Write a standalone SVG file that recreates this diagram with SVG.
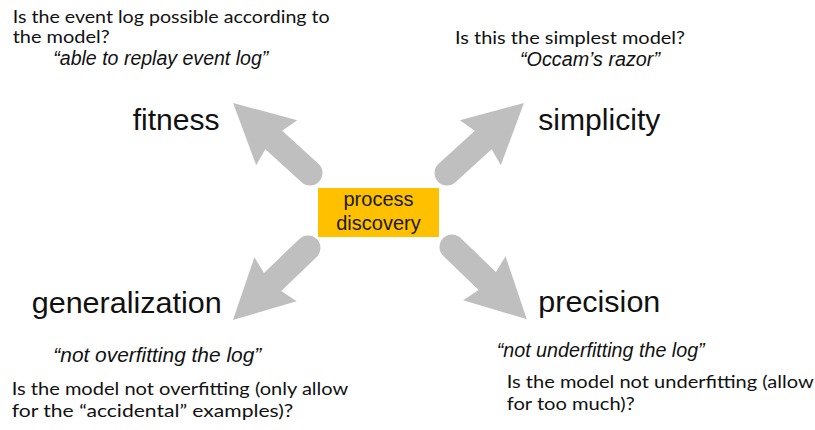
<svg xmlns="http://www.w3.org/2000/svg" width="815" height="430" viewBox="0 0 815 430">
  <style>
    .q { font-family: Lato, "Open Sans", "Liberation Sans", sans-serif; font-size: 18px; fill: #111; }
    .it { font-family: "Liberation Sans", Arial, sans-serif; font-size: 19.5px; font-style: italic; fill: #111; }
    .lbl { font-family: "Liberation Sans", Arial, sans-serif; font-size: 30px; fill: #111; }
    .box { fill: #FFC000; }
    .boxt { font-family: "Liberation Sans", Arial, sans-serif; font-size: 20px; fill: #1a1a1a; text-anchor: middle; }
    .arrow { fill: #BFBFBF; }
  </style>
  <defs>
    <path id="fat-arrow" d="M0,-12.5 L49,-12.5 L45,-30.5 L104,0 L45,30.5 L49,12.5 L0,12.5 A12.5,12.5 0 0 1 0,-12.5 Z"/>
  </defs>
  <rect width="815" height="430" fill="#ffffff"/>

  <g id="connectors">
    <use href="#fat-arrow" class="arrow" transform="translate(310,173) rotate(222.3)"/>
    <use href="#fat-arrow" class="arrow" transform="translate(447,173) rotate(317.7)"/>
    <use href="#fat-arrow" class="arrow" transform="translate(308,248) rotate(136.2)"/>
    <use href="#fat-arrow" class="arrow" transform="translate(452,247) rotate(44)"/>
  </g>

  <g id="process-discovery">
    <rect class="box" x="318" y="188" width="121" height="49"/>
    <text class="boxt" x="378.5" y="206">process</text>
    <text class="boxt" x="378.5" y="230">discovery</text>
  </g>

  <g id="fitness">
    <text class="q" x="12.7" y="22.5" textLength="317" lengthAdjust="spacingAndGlyphs">Is the event log possible according to</text>
    <text class="q" x="12.7" y="43" textLength="97" lengthAdjust="spacingAndGlyphs">the model?</text>
    <text class="it" x="53.3" y="65" textLength="215" lengthAdjust="spacingAndGlyphs">“able to replay event log”</text>
    <text class="lbl" x="132.7" y="130" textLength="87" lengthAdjust="spacingAndGlyphs">fitness</text>
  </g>

  <g id="simplicity">
    <text class="q" x="455" y="44" textLength="230" lengthAdjust="spacingAndGlyphs">Is this the simplest model?</text>
    <text class="it" x="520" y="65.5" textLength="140" lengthAdjust="spacingAndGlyphs">“Occam’s razor”</text>
    <text class="lbl" x="538.3" y="130" textLength="122" lengthAdjust="spacingAndGlyphs">simplicity</text>
  </g>

  <g id="generalization">
    <text class="lbl" x="31.7" y="313" textLength="190" lengthAdjust="spacingAndGlyphs">generalization</text>
    <text class="it" x="53.3" y="362" textLength="208" lengthAdjust="spacingAndGlyphs">“not overfitting the log”</text>
    <text class="q" x="11.7" y="395" textLength="336.6" lengthAdjust="spacingAndGlyphs">Is the model not overfitting (only allow</text>
    <text class="q" x="11.7" y="416.7" textLength="281.6" lengthAdjust="spacingAndGlyphs">for the “accidental” examples)?</text>
  </g>

  <g id="precision">
    <text class="lbl" x="538.3" y="312" textLength="122" lengthAdjust="spacingAndGlyphs">precision</text>
    <text class="it" x="496.7" y="357" textLength="208" lengthAdjust="spacingAndGlyphs">“not underfitting the log”</text>
    <text class="q" x="506.7" y="388" textLength="307" lengthAdjust="spacingAndGlyphs">Is the model not underfitting (allow</text>
    <text class="q" x="506.7" y="410" textLength="128" lengthAdjust="spacingAndGlyphs">for too much)?</text>
  </g>
</svg>
